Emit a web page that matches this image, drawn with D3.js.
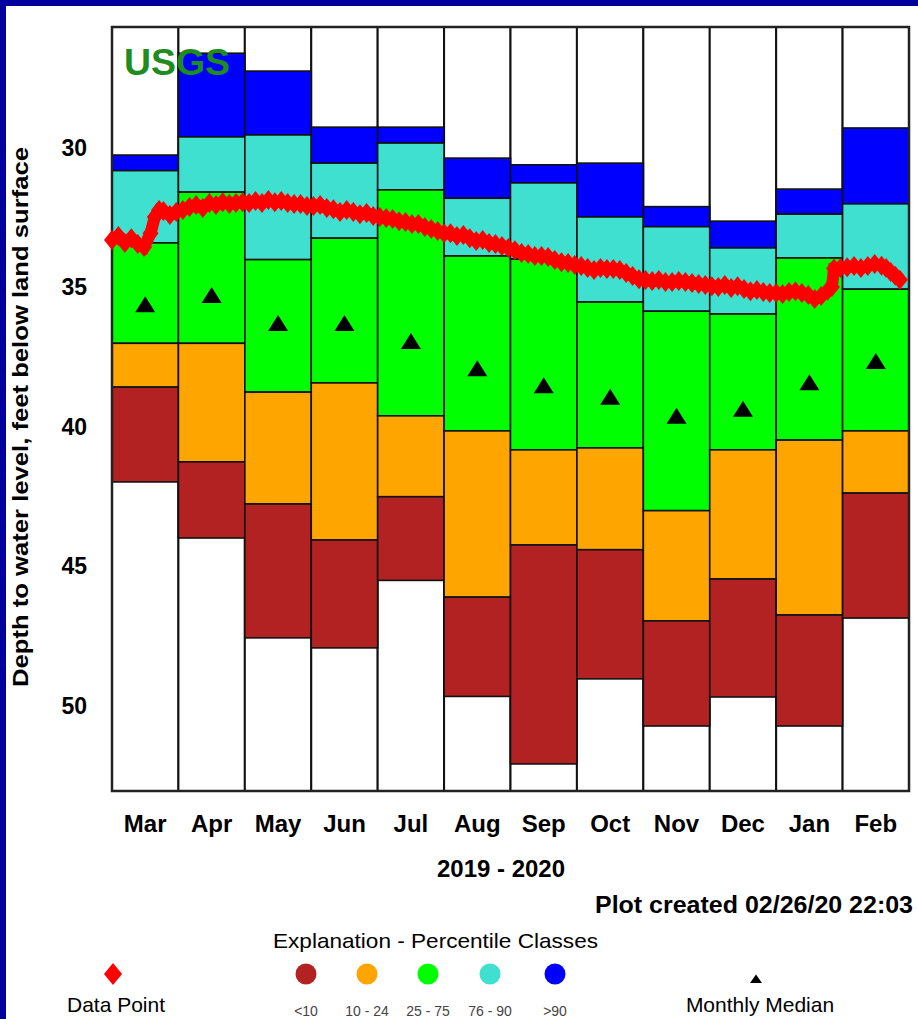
<!DOCTYPE html>
<html>
<head>
<meta charset="utf-8">
<script src="https://cdn.jsdelivr.net/npm/d3@7"></script>
<style>
  html, body { margin: 0; padding: 0; background: #fff; }
  svg { display: block; }
  text { font-family: "Liberation Sans", Arial, sans-serif; }
</style>
</head>
<body>
<svg id="chart" width="918" height="1019"></svg>
<script>
// Month columns of the water year shown
const months = ["Mar", "Apr", "May", "Jun", "Jul", "Aug", "Sep", "Oct", "Nov", "Dec", "Jan", "Feb"];

// Percentile class boundaries (feet below land surface) for each month
const pctMax = [30.25, 26.60, 27.24, 29.25, 29.25, 30.36, 30.60, 30.54, 32.10, 32.62, 31.47, 29.28];
const pct90  = [30.81, 29.60, 29.53, 30.54, 29.82, 31.80, 31.25, 32.47, 32.82, 33.58, 32.37, 32.00];
const pct75  = [33.40, 31.58, 34.00, 33.23, 31.50, 33.87, 33.98, 35.52, 35.85, 35.95, 33.94, 35.06];
const pct25  = [37.00, 37.00, 38.75, 38.42, 39.60, 40.14, 40.82, 40.75, 43.00, 40.82, 40.47, 40.14];
const pct10  = [38.57, 41.25, 42.76, 44.05, 42.50, 46.10, 44.23, 44.40, 46.95, 45.45, 46.74, 42.37];
const pctMin = [41.97, 43.98, 47.56, 47.92, 45.50, 49.66, 52.08, 49.03, 50.72, 49.68, 50.72, 46.85];

// Monthly median depth
const medians = [35.60, 35.27, 36.27, 36.27, 36.92, 37.89, 38.50, 38.92, 39.60, 39.35, 38.40, 37.63];

// Y axis tick values
const yTicks = [30, 35, 40, 45, 50];

// Observed depth to water
const obsDates = [
  "2019-03-01","2019-03-04","2019-03-07","2019-03-10","2019-03-13","2019-03-16","2019-03-19","2019-03-21","2019-03-23","2019-03-25","2019-03-28","2019-03-31",
  "2019-04-03","2019-04-06","2019-04-09","2019-04-12","2019-04-15","2019-04-18","2019-04-21","2019-04-24","2019-04-27","2019-04-30",
  "2019-05-03","2019-05-06","2019-05-09","2019-05-12","2019-05-15","2019-05-18","2019-05-21","2019-05-24","2019-05-27","2019-05-30",
  "2019-06-02","2019-06-05","2019-06-08","2019-06-11","2019-06-14","2019-06-17","2019-06-20","2019-06-23","2019-06-26","2019-06-29",
  "2019-07-02","2019-07-05","2019-07-08","2019-07-11","2019-07-14","2019-07-17","2019-07-20","2019-07-23","2019-07-26","2019-07-29",
  "2019-08-01","2019-08-04","2019-08-07","2019-08-10","2019-08-13","2019-08-16","2019-08-19","2019-08-22","2019-08-25","2019-08-28","2019-08-31",
  "2019-09-03","2019-09-06","2019-09-09","2019-09-12","2019-09-15","2019-09-18","2019-09-21","2019-09-24","2019-09-27","2019-09-30",
  "2019-10-03","2019-10-06","2019-10-09","2019-10-12","2019-10-15","2019-10-18","2019-10-21","2019-10-24","2019-10-27","2019-10-30",
  "2019-11-02","2019-11-05","2019-11-08","2019-11-11","2019-11-14","2019-11-17","2019-11-20","2019-11-23","2019-11-26","2019-11-29",
  "2019-12-02","2019-12-05","2019-12-08","2019-12-11","2019-12-14","2019-12-17","2019-12-20","2019-12-23","2019-12-26","2019-12-29",
  "2020-01-01","2020-01-04","2020-01-07","2020-01-10","2020-01-13","2020-01-16","2020-01-19","2020-01-22","2020-01-25","2020-01-27","2020-01-28","2020-01-31",
  "2020-02-03","2020-02-06","2020-02-09","2020-02-12","2020-02-15","2020-02-18","2020-02-20","2020-02-22","2020-02-24","2020-02-26"
];
const obsDepth = [
  33.30,33.15,33.40,33.23,33.44,33.55,33.05,32.47,32.22,32.26,32.40,32.29,
  32.22,32.11,32.04,32.15,31.97,32.04,31.94,32.01,31.97,31.94,
  31.97,31.90,31.97,31.86,31.94,31.90,31.97,32.01,32.01,32.08,
  32.08,32.04,32.15,32.19,32.29,32.22,32.29,32.37,32.33,32.44,
  32.47,32.51,32.54,32.62,32.65,32.72,32.72,32.83,32.90,32.97,
  33.05,33.05,33.15,33.12,33.23,33.33,33.30,33.40,33.44,33.51,33.58,
  33.66,33.76,33.80,33.87,33.87,33.91,34.01,34.09,34.12,34.19,
  34.23,34.30,34.37,34.30,34.34,34.34,34.37,34.48,34.59,34.70,
  34.73,34.77,34.73,34.80,34.80,34.77,34.80,34.84,34.87,34.91,
  34.95,34.98,34.91,35.02,34.95,35.05,35.13,35.09,35.16,35.20,
  35.20,35.23,35.16,35.13,35.20,35.27,35.41,35.30,35.12,34.98,34.32,34.30,
  34.27,34.23,34.30,34.23,34.16,34.22,34.30,34.44,34.58,34.72
];

// Legend entries for the percentile classes
const classLabels = ["<10", "10 - 24", "25 - 75", "76 - 90", ">90"];
const classColors = ["#b22222", "#ffa500", "#00ff00", "#40e0d0", "#0000ff"];

const W = 918, H = 1019;
const plot = { left: 112, right: 909, top: 27, bottom: 791 };

const svg = d3.select("#chart");

// Page frame: dark blue border on the top and left edges
svg.append("rect").attr("x", 0).attr("y", 0).attr("width", W).attr("height", H).attr("fill", "#00009c");
svg.append("rect").attr("x", 6).attr("y", 6).attr("width", W - 6).attr("height", H - 6).attr("fill", "#ffffff");

const x = d3.scaleBand().domain(months).range([plot.left, plot.right]).paddingInner(0).paddingOuter(0);
const xPos = d3.scaleLinear().domain([0, 12]).range([plot.left, plot.right]);
const y = d3.scaleLinear().domain([25.66, 53.05]).range([plot.top, plot.bottom]);

// Fractional month position of a date, March 2019 = 0
const parse = d3.timeParse("%Y-%m-%d");
function monthPosition(s) {
  const d = parse(s);
  const idx = (d.getFullYear() - 2019) * 12 + d.getMonth() - 2;
  const dim = new Date(d.getFullYear(), d.getMonth() + 1, 0).getDate();
  return idx + (d.getDate() - 1) / dim;
}

const g = svg.append("g");

// Column outlines
g.selectAll("rect.col").data(months).join("rect")
  .attr("class", "col")
  .attr("x", d => x(d)).attr("y", plot.top)
  .attr("width", x.bandwidth()).attr("height", plot.bottom - plot.top)
  .attr("fill", "#fff").attr("stroke", "#111").attr("stroke-width", 2);

// Percentile bands, stacked from shallow (>90) to deep (<10)
const bounds = [pctMax, pct90, pct75, pct25, pct10, pctMin];
const bandColors = ["#0000ff", "#40e0d0", "#00ff00", "#ffa500", "#b22222"];
const bands = [];
months.forEach((m, i) => {
  for (let k = 0; k < 5; k++) {
    bands.push({ m, top: bounds[k][i], bot: bounds[k + 1][i], color: bandColors[k] });
  }
});
g.selectAll("rect.band").data(bands).join("rect")
  .attr("class", "band")
  .attr("x", d => x(d.m)).attr("width", x.bandwidth())
  .attr("y", d => y(d.top)).attr("height", d => y(d.bot) - y(d.top))
  .attr("fill", d => d.color).attr("stroke", "#111").attr("stroke-width", 1.6);

// Outer frame
g.append("rect")
  .attr("x", plot.left).attr("y", plot.top)
  .attr("width", plot.right - plot.left).attr("height", plot.bottom - plot.top)
  .attr("fill", "none").attr("stroke", "#222").attr("stroke-width", 2.5);

// Monthly median triangles
g.selectAll("path.median").data(medians).join("path")
  .attr("class", "median")
  .attr("transform", (d, i) => `translate(${x(months[i]) + x.bandwidth() / 2},${y(d)})`)
  .attr("d", "M0,-8 L10,8 L-10,8 Z")
  .attr("fill", "#000");

// Observed water level: connected line plus diamond markers
const obs = obsDates.map((d, i) => ({ p: monthPosition(d), v: obsDepth[i] }));
g.append("path")
  .datum(obs)
  .attr("d", d3.line().x(d => xPos(d.p)).y(d => y(d.v)))
  .attr("fill", "none").attr("stroke", "#ff0000").attr("stroke-width", 12)
  .attr("stroke-linejoin", "miter");
g.selectAll("path.obs").data(obs).join("path")
  .attr("class", "obs")
  .attr("transform", d => `translate(${xPos(d.p)},${y(d.v)})`)
  .attr("d", "M0,-10 L8,0 L0,10 L-8,0 Z")
  .attr("fill", "#ff0000");

// USGS mark
svg.append("text")
  .attr("x", 124).attr("y", 75)
  .attr("font-size", 37).attr("font-weight", "bold")
  .attr("fill", "#1e8c1e")
  .attr("textLength", 106).attr("lengthAdjust", "spacingAndGlyphs")
  .text("USGS");

// Y axis (labels only)
const yAxis = svg.append("g")
  .attr("transform", `translate(${plot.left},0)`)
  .call(d3.axisLeft(y).tickValues(yTicks).tickSize(0).tickPadding(25).tickFormat(d3.format("d")));
yAxis.select(".domain").remove();
yAxis.selectAll("text")
  .attr("font-family", "Liberation Sans, Arial, sans-serif")
  .attr("font-size", 23).attr("font-weight", "bold").attr("fill", "#000");

// X axis (month labels only)
const xAxis = svg.append("g")
  .attr("transform", `translate(0,${plot.bottom})`)
  .call(d3.axisBottom(x).tickSize(0).tickPadding(24));
xAxis.select(".domain").remove();
xAxis.selectAll("text")
  .attr("font-family", "Liberation Sans, Arial, sans-serif")
  .attr("font-size", 24).attr("font-weight", "bold").attr("fill", "#000");

// Axis titles
svg.append("text")
  .attr("transform", "translate(28,417) rotate(-90)")
  .attr("text-anchor", "middle")
  .attr("font-size", 22).attr("font-weight", "bold")
  .attr("textLength", 540).attr("lengthAdjust", "spacingAndGlyphs")
  .text("Depth to water level, feet below land surface");

svg.append("text")
  .attr("x", 501).attr("y", 877)
  .attr("text-anchor", "middle")
  .attr("font-size", 24).attr("font-weight", "bold")
  .text("2019 - 2020");

svg.append("text")
  .attr("x", 913).attr("y", 913)
  .attr("text-anchor", "end")
  .attr("font-size", 24).attr("font-weight", "bold")
  .attr("textLength", 318).attr("lengthAdjust", "spacingAndGlyphs")
  .text("Plot created 02/26/20 22:03");

// Legend
svg.append("text")
  .attr("x", 273).attr("y", 948)
  .attr("font-size", 21)
  .attr("textLength", 325).attr("lengthAdjust", "spacingAndGlyphs")
  .text("Explanation - Percentile Classes");

svg.append("path")
  .attr("transform", "translate(113,974)")
  .attr("d", "M0,-11 L9,0 L0,11 L-9,0 Z")
  .attr("fill", "#ff0000");
svg.append("text")
  .attr("x", 116).attr("y", 1012)
  .attr("text-anchor", "middle")
  .attr("font-size", 21)
  .text("Data Point");

const classX = [306, 367, 428, 490, 555];
svg.selectAll("circle.cls").data(classColors).join("circle")
  .attr("class", "cls")
  .attr("cx", (d, i) => classX[i]).attr("cy", 974).attr("r", 10.5)
  .attr("fill", d => d);
svg.selectAll("text.cls").data(classLabels).join("text")
  .attr("class", "cls")
  .attr("x", (d, i) => classX[i]).attr("y", 1016)
  .attr("text-anchor", "middle")
  .attr("font-size", 14).attr("fill", "#444")
  .text(d => d);

svg.append("path")
  .attr("transform", "translate(756,979)")
  .attr("d", "M0,-4.5 L6,4 L-6,4 Z")
  .attr("fill", "#000");
svg.append("text")
  .attr("x", 760).attr("y", 1012)
  .attr("text-anchor", "middle")
  .attr("font-size", 21)
  .text("Monthly Median");
</script>
</body>
</html>
